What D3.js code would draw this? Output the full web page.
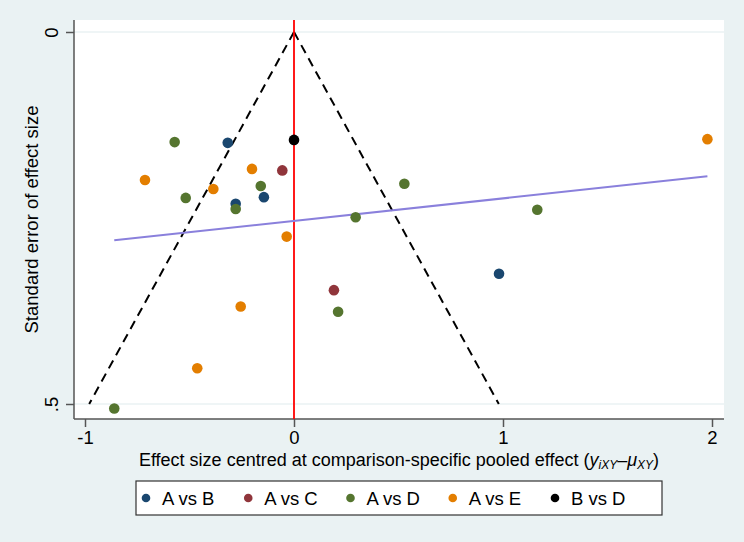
<!DOCTYPE html>
<html>
<head>
<meta charset="utf-8">
<script src="https://cdn.jsdelivr.net/npm/d3@7"></script>
<style>
  body { margin: 0; background: #eaf2f3; }
  text { font-family: "Liberation Sans", Arial, sans-serif; fill: #000; }
</style>
</head>
<body>
<div id="wrapper"></div>
<script>
// comparison groups and colours
const groups = ["A vs B", "A vs C", "A vs D", "A vs E", "B vs D"];
const groupColors = ["#1a476f", "#90353b", "#55752f", "#e37e00", "#000000"];

// effect centred at comparison-specific pooled effect, and its standard error
const abEffect = [-0.317, -0.144, -0.279, 0.981];
const abSE = [0.149, 0.222, 0.231, 0.325];
const acEffect = [-0.056, 0.191];
const acSE = [0.186, 0.347];
const adEffect = [-0.571, -0.159, -0.518, -0.279, 0.528, 0.295, 0.211, 1.164, -0.860];
const adSE = [0.148, 0.207, 0.223, 0.238, 0.204, 0.249, 0.376, 0.239, 0.506];
const aeEffect = [-0.713, -0.201, -0.386, -0.035, -0.255, 1.978, -0.463];
const aeSE = [0.199, 0.184, 0.211, 0.275, 0.369, 0.144, 0.452];
const bdEffect = [0.0];
const bdSE = [0.145];

// fitted line ends (effect, se)
const fitEffect = [-0.860, 1.978];
const fitSE = [0.280, 0.194];

// pseudo 95% limits: effect = ±1.96 * se
const limitSE = [0, 0.5];

const xTicks = [-1, 0, 1, 2];
const yTicks = [0, 0.5];

const points = [
    [abEffect, abSE], [acEffect, acSE], [adEffect, adSE], [aeEffect, aeSE], [bdEffect, bdSE]
].flatMap(([ex, se], g) => ex.map((e, i) => ({ group: g, effect: e, se: se[i] })));

const fontSize = 18.5;

const dimensions = {
    width: 744,
    height: 542,
    plot: { left: 74, right: 724, top: 20, bottom: 419 },
};

const wrapper = d3.select("#wrapper")
    .append("svg")
    .attr("width", dimensions.width)
    .attr("height", dimensions.height);

wrapper.append("rect")
    .attr("width", dimensions.width)
    .attr("height", dimensions.height)
    .attr("fill", "#eaf2f3");

const p = dimensions.plot;
wrapper.append("rect")
    .attr("x", p.left)
    .attr("y", p.top)
    .attr("width", p.right - p.left)
    .attr("height", p.bottom - p.top)
    .attr("fill", "#ffffff");

const xScale = d3.scaleLinear().domain([-1, 2]).range([85, 712]);
const yScale = d3.scaleLinear().domain([0, 0.5]).range([32, 404]);

// grid lines
wrapper.append("g")
    .selectAll("line")
    .data(yTicks)
    .join("line")
    .attr("x1", p.left)
    .attr("x2", p.right)
    .attr("y1", (d) => yScale(d))
    .attr("y2", (d) => yScale(d))
    .attr("stroke", "#eaf2f3")
    .attr("stroke-width", 1.5);

// axes
const yAxis = wrapper.append("g")
    .attr("transform", `translate(${p.left},0)`)
    .call(d3.axisLeft(yScale).tickValues(yTicks).tickSize(8)
        .tickFormat((d) => (d === 0 ? "0" : ".5")));
yAxis.select(".domain").attr("d", `M0,${p.top}V${p.bottom}`).attr("stroke", "#555").attr("stroke-width", 1.5);
yAxis.selectAll(".tick line").attr("stroke", "#555").attr("stroke-width", 1.5);
yAxis.selectAll(".tick text")
    .attr("font-size", fontSize)
    .attr("font-family", "Liberation Sans, Arial, sans-serif")
    .attr("text-anchor", "middle")
    .attr("x", null)
    .attr("dy", null)
    .attr("transform", "translate(-16,0) rotate(-90)");

const xAxis = wrapper.append("g")
    .attr("transform", `translate(0,${p.bottom})`)
    .call(d3.axisBottom(xScale).tickValues(xTicks).tickSize(8).tickPadding(4)
        .tickFormat(d3.format("d")));
xAxis.select(".domain").attr("d", `M${p.left},0H${p.right}`).attr("stroke", "#555").attr("stroke-width", 1.5);
xAxis.selectAll(".tick line").attr("stroke", "#555").attr("stroke-width", 1.5);
xAxis.selectAll(".tick text")
    .attr("font-size", fontSize)
    .attr("font-family", "Liberation Sans, Arial, sans-serif")
    .text((d) => (d < 0 ? "-" + Math.abs(d) : d));

// pseudo confidence limits
const limitLine = d3.line()
    .x((d) => xScale(d[0]))
    .y((d) => yScale(d[1]));
[-1.96, 1.96].forEach((z) => {
    wrapper.append("path")
        .attr("d", limitLine(limitSE.map((s) => [z * s, s])))
        .attr("fill", "none")
        .attr("stroke", "#000")
        .attr("stroke-width", 2)
        .attr("stroke-dasharray", "9,6");
});

// zero line
wrapper.append("line")
    .attr("x1", xScale(0))
    .attr("x2", xScale(0))
    .attr("y1", p.top)
    .attr("y2", p.bottom)
    .attr("stroke", "#ff0000")
    .attr("stroke-width", 1.8);

// fitted line
wrapper.append("path")
    .attr("d", limitLine(fitEffect.map((e, i) => [e, fitSE[i]])))
    .attr("fill", "none")
    .attr("stroke", "#8a80dc")
    .attr("stroke-width", 2);

// study points
wrapper.append("g")
    .selectAll("circle")
    .data(points)
    .join("circle")
    .attr("cx", (d) => xScale(d.effect))
    .attr("cy", (d) => yScale(d.se))
    .attr("r", 5.3)
    .attr("fill", (d) => groupColors[d.group]);

// axis titles
wrapper.append("text")
    .attr("transform", `translate(38,${(p.top + p.bottom) / 2}) rotate(-90)`)
    .attr("text-anchor", "middle")
    .attr("font-size", fontSize)
    .text("Standard error of effect size");

const xTitle = wrapper.append("text")
    .attr("x", (p.left + p.right) / 2)
    .attr("y", 466)
    .attr("text-anchor", "middle")
    .attr("font-size", 18);
xTitle.append("tspan").text("Effect size centred at comparison-specific pooled effect (");
xTitle.append("tspan").attr("font-style", "italic").text("y");
xTitle.append("tspan").attr("font-style", "italic").attr("font-size", 12).attr("dy", 3).text("iXY");
xTitle.append("tspan").attr("dy", -3).text("–");
xTitle.append("tspan").attr("font-style", "italic").text("μ");
xTitle.append("tspan").attr("font-style", "italic").attr("font-size", 12).attr("dy", 3).text("XY");
xTitle.append("tspan").attr("dy", -3).text(")");

// legend
const legend = wrapper.append("g");
legend.append("rect")
    .attr("x", 136)
    .attr("y", 481)
    .attr("width", 526)
    .attr("height", 34)
    .attr("fill", "#ffffff")
    .attr("stroke", "#333")
    .attr("stroke-width", 1.2);

const legendX = d3.scalePoint().domain(groups).range([146, 555]);
const items = legend.selectAll("g.item")
    .data(groups)
    .join("g")
    .attr("class", "item")
    .attr("transform", (d) => `translate(${legendX(d)},498)`);
items.append("circle")
    .attr("r", 4.3)
    .attr("fill", (d, i) => groupColors[i]);
items.append("text")
    .attr("x", 16)
    .attr("dy", "0.36em")
    .attr("font-size", fontSize)
    .text((d) => d);
</script>
</body>
</html>
